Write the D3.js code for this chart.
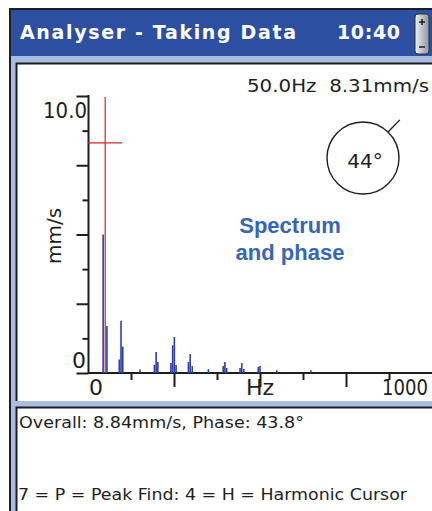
<!DOCTYPE html>
<html lang="en">
  <head>
    <meta charset="UTF-8" />
    <title>Analyser - Taking Data</title>
    <script src="https://d3js.org/d3.v7.min.js"></script>
    <style>
      body {
        margin: 0;
        background: white;
      }
      svg {
        display: block;
        font-family: 'DejaVu Sans', sans-serif;
      }
      text {
        white-space: pre;
      }
    </style>
  </head>
  <body>
    <svg width="432" height="511"></svg>

    <script>
      // spectrum lines (Hz, mm/s)
      const specHz = [44, 55, 91, 96, 101, 151, 193, 198, 203, 241, 246, 251, 256, 292, 297, 303, 350, 393, 398, 403, 442, 447, 453, 495, 500, 549, 648];
      const specAmp = [5.0, 1.7, 0.49, 1.89, 0.95, 0.13, 0.29, 0.76, 0.4, 0.36, 1.0, 1.3, 0.29, 0.4, 0.69, 0.25, 0.14, 0.25, 0.4, 0.18, 0.18, 0.36, 0.14, 0.22, 0.25, 0.1, 0.1];

      // axis ticks
      const yMajor = [0, 2.5, 5, 7.5, 10];
      const yMinor = [1.25, 3.75, 6.25, 8.75];
      const xMajor = [250, 500, 750];
      const xMinor = [125, 375, 625, 875];

      // cursor readout
      const cursorHz = 50;
      const cursorAmp = 8.31;
      const phaseDeg = 44;
      const overallAmp = 8.84;
      const overallPhase = 43.8;

      const svg = d3.select('svg');
      const ink = '#1e1e1e';

      // window chrome
      svg.append('rect')
        .attr('x', 10).attr('y', 9).attr('width', 440).attr('height', 520)
        .attr('fill', '#a9bde3').attr('stroke', ink).attr('stroke-width', 2);
      svg.append('rect')
        .attr('x', 11).attr('y', 10).attr('width', 430).attr('height', 46)
        .attr('fill', '#2d4fa1');

      svg.append('text')
        .attr('x', 20).attr('y', 39)
        .attr('fill', 'white').attr('font-weight', 'bold').attr('font-size', 19)
        .attr('textLength', 276).attr('lengthAdjust', 'spacing')
        .text('Analyser - Taking Data');
      svg.append('text')
        .attr('x', 337).attr('y', 39)
        .attr('fill', 'white').attr('font-weight', 'bold').attr('font-size', 19)
        .attr('textLength', 63).attr('lengthAdjust', 'spacing')
        .text('10:40');

      // little scroll widget
      const grad = svg.append('defs').append('linearGradient').attr('id', 'sb');
      grad.append('stop').attr('offset', '0%').attr('stop-color', '#eef0f3');
      grad.append('stop').attr('offset', '100%').attr('stop-color', '#8e96a3');
      svg.append('rect')
        .attr('x', 415).attr('y', 14).attr('width', 14).attr('height', 40).attr('rx', 3)
        .attr('fill', 'url(#sb)').attr('stroke', '#333');
      svg.append('path').attr('d', 'M419,22h6M422,19v6M419,47h6').attr('stroke', ink).attr('stroke-width', 1.5);

      // panels
      function panel(y, h) {
        svg.append('rect').attr('x', 16).attr('y', y).attr('width', 430).attr('height', h).attr('fill', 'white');
        svg.append('path')
          .attr('d', `M16.5,${y + h}V${y + 0.5}H440`)
          .attr('fill', 'none').attr('stroke', ink).attr('stroke-width', 2);
      }
      panel(63, 338);
      panel(407, 120);

      // scales
      const x = d3.scaleLinear().domain([0, 1000]).range([88, 432]);
      const y = d3.scaleLinear().domain([0, 10]).range([373, 96]);

      // y axis
      const yg = svg.append('g').attr('transform', 'translate(88.5,0)');
      yg.call(d3.axisLeft(y).tickValues(yMajor).tickSize(12).tickFormat(''));
      yg.append('g').call(d3.axisLeft(y).tickValues(yMinor).tickSize(6).tickFormat(''));
      yg.selectAll('.domain').remove();
      yg.selectAll('line').attr('stroke', ink).attr('stroke-width', 2);
      svg.append('line')
        .attr('x1', 88.5).attr('x2', 88.5).attr('y1', y(10) - 1).attr('y2', y(0) + 1)
        .attr('stroke', ink).attr('stroke-width', 2);

      // x axis
      const xg = svg.append('g').attr('transform', `translate(0,${y(0)})`);
      xg.call(d3.axisBottom(x).tickValues(xMajor).tickSize(14).tickFormat(''));
      xg.append('g').call(d3.axisBottom(x).tickValues(xMinor).tickSize(7).tickFormat(''));
      xg.selectAll('.domain').remove();
      xg.selectAll('line').attr('stroke', ink).attr('stroke-width', 2);
      svg.append('line')
        .attr('x1', x(0)).attr('x2', 440).attr('y1', y(0)).attr('y2', y(0))
        .attr('stroke', ink).attr('stroke-width', 2);

      // axis labels
      const lab = { fill: ink, size: 22 };
      svg.append('text').attr('x', 87).attr('y', 118).attr('text-anchor', 'end')
        .attr('font-size', lab.size).attr('fill', lab.fill)
        .attr('textLength', 44).attr('lengthAdjust', 'spacingAndGlyphs').text('10.0');
      svg.append('text').attr('x', 86).attr('y', 368).attr('text-anchor', 'end')
        .attr('font-size', lab.size).attr('fill', lab.fill).text('0');
      svg.append('text').attr('x', x(0) + 1).attr('y', 395)
        .attr('font-size', lab.size).attr('fill', lab.fill).text('0');
      svg.append('text').attr('x', x(500)).attr('y', 395).attr('text-anchor', 'middle')
        .attr('font-size', lab.size).attr('fill', lab.fill).text('Hz');
      svg.append('text').attr('x', 382).attr('y', 395)
        .attr('font-size', lab.size).attr('fill', lab.fill)
        .attr('textLength', 46).attr('lengthAdjust', 'spacingAndGlyphs').text('1000');
      svg.append('text')
        .attr('transform', 'translate(61,236) rotate(-90)')
        .attr('text-anchor', 'middle').attr('font-size', 20).attr('fill', ink)
        .text('mm/s');

      // spectrum
      const spec = specHz.map((hz, i) => ({ hz, amp: specAmp[i] }));
      svg.append('g')
        .selectAll('line')
        .data(spec)
        .join('line')
        .attr('x1', (d) => x(d.hz)).attr('x2', (d) => x(d.hz))
        .attr('y1', y(0)).attr('y2', (d) => y(d.amp))
        .attr('stroke', '#2b3ea3').attr('stroke-width', 1.6);

      // cursor
      svg.append('line')
        .attr('x1', x(cursorHz)).attr('x2', x(cursorHz))
        .attr('y1', y(10) + 1).attr('y2', y(0))
        .attr('stroke', '#d2232a').attr('stroke-width', 1.2);
      svg.append('line')
        .attr('x1', x(0)).attr('x2', x(cursorHz) + 17)
        .attr('y1', y(cursorAmp)).attr('y2', y(cursorAmp))
        .attr('stroke', '#d2232a').attr('stroke-width', 1.2);

      svg.append('text')
        .attr('x', 247).attr('y', 92).attr('font-size', 18.5).attr('fill', ink)
        .attr('textLength', 182).attr('lengthAdjust', 'spacingAndGlyphs')
        .text(`${cursorHz.toFixed(1)}Hz  ${cursorAmp.toFixed(2)}mm/s`);

      // phase dial
      const cx = 363, cy = 158, r = 36;
      const a = (phaseDeg * Math.PI) / 180;
      svg.append('circle').attr('cx', cx).attr('cy', cy).attr('r', r)
        .attr('fill', 'none').attr('stroke', ink).attr('stroke-width', 1.4);
      svg.append('line')
        .attr('x1', cx + r * Math.sin(a)).attr('y1', cy - r * Math.cos(a))
        .attr('x2', cx + 53 * Math.sin(a)).attr('y2', cy - 53 * Math.cos(a))
        .attr('stroke', ink).attr('stroke-width', 1.4);
      svg.append('text').attr('x', cx + 2).attr('y', 168).attr('text-anchor', 'middle')
        .attr('font-size', 20).attr('fill', ink).text(`${phaseDeg}°`);

      // caption
      const cap = svg.append('text')
        .attr('text-anchor', 'middle').attr('font-family', 'Liberation Sans, Arial, sans-serif')
        .attr('font-weight', 'bold').attr('font-size', 22).attr('fill', '#3567b4');
      cap.append('tspan').attr('x', 290).attr('y', 233).text('Spectrum');
      cap.append('tspan').attr('x', 290).attr('y', 260).text('and phase');

      // status panel
      svg.append('text')
        .attr('x', 19).attr('y', 428).attr('font-size', 15).attr('fill', ink)
        .attr('textLength', 285).attr('lengthAdjust', 'spacingAndGlyphs')
        .text(`Overall: ${overallAmp}mm/s, Phase: ${overallPhase}°`);
      svg.append('text')
        .attr('x', 18).attr('y', 500).attr('font-size', 15).attr('fill', ink)
        .attr('textLength', 389).attr('lengthAdjust', 'spacingAndGlyphs')
        .text('7 = P = Peak Find: 4 = H = Harmonic Cursor');
    </script>
  </body>
</html>
